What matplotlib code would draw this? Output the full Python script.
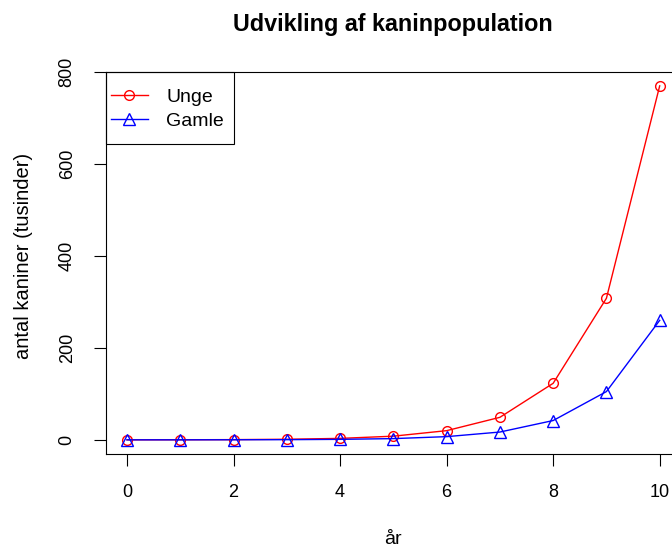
import matplotlib
matplotlib.use("Agg")
import matplotlib.pyplot as plt
from matplotlib.patches import Rectangle

plt.rcParams['font.family'] = ['Liberation Sans', 'DejaVu Sans']

# data (tusinder kaniner)
aar = list(range(0, 11))
unge = [0.1, 0.2, 0.5, 1.3, 3.2, 8, 20, 49, 123, 308, 770]
gamle = [0.03, 0.07, 0.2, 0.4, 1.1, 2.7, 7, 17, 42, 105, 260]
yticks = [0, 200, 400, 600, 800]
xticks = [0, 2, 4, 6, 8, 10]

W, H = 672, 547
fig = plt.figure(figsize=(W / 100, H / 100), dpi=100)
left, right, top, bottom = 105.7, 681, 71.7, 454
ax = fig.add_axes([left / W, 1 - bottom / H, (right - left) / W, (bottom - top) / H])

ax.plot(aar, unge, color='red', marker='o', markersize=7, markerfacecolor='none',
        markeredgewidth=1, linewidth=1, label='Unge')
ax.plot(aar, gamle, color='blue', marker='^', markersize=8, markerfacecolor='none',
        markeredgewidth=1, linewidth=1, label='Gamle')

ymin = min(min(unge), min(gamle))
ymax = max(max(unge), max(gamle))
pad = 0.04 * (ymax - ymin)
ax.set_ylim(ymin - pad, ymax + pad)
ax.set_xlim(-0.4, 10.4)

ax.set_xticks(xticks)
ax.set_yticks(yticks)
ax.tick_params(direction='out', length=8.6, width=0.8, labelsize=13, pad=13)
for lab in ax.get_yticklabels():
    lab.set_rotation(90)
    lab.set_va('center')
for s in ax.spines.values():
    s.set_linewidth(0.8)

# legend without frame + manual box like R
leg = ax.legend(loc='upper left', bbox_to_anchor=(111 / W, 1 - 88 / H),
                bbox_transform=fig.transFigure, borderaxespad=0, borderpad=0,
                fontsize=14, handlelength=1.9, handletextpad=0.93,
                labelspacing=0.36, frameon=False)
fig.patches.append(Rectangle((106 / W, 1 - 144 / H), 128 / W, 72 / H,
                             transform=fig.transFigure, fill=False,
                             edgecolor='black', linewidth=0.8, zorder=5))

fig.text(393 / W, 1 - 24 / H, 'Udvikling af kaninpopulation', ha='center', va='center',
         fontsize=16.8, fontweight='bold')
fig.text(393 / W, 1 - 540 / H, 'år', ha='center', va='center', fontsize=14)
fig.text(24 / W, 1 - 256 / H, 'antal kaniner (tusinder)', ha='center', va='center',
         rotation=90, fontsize=14.5)

fig.savefig('out.png', dpi=100)
